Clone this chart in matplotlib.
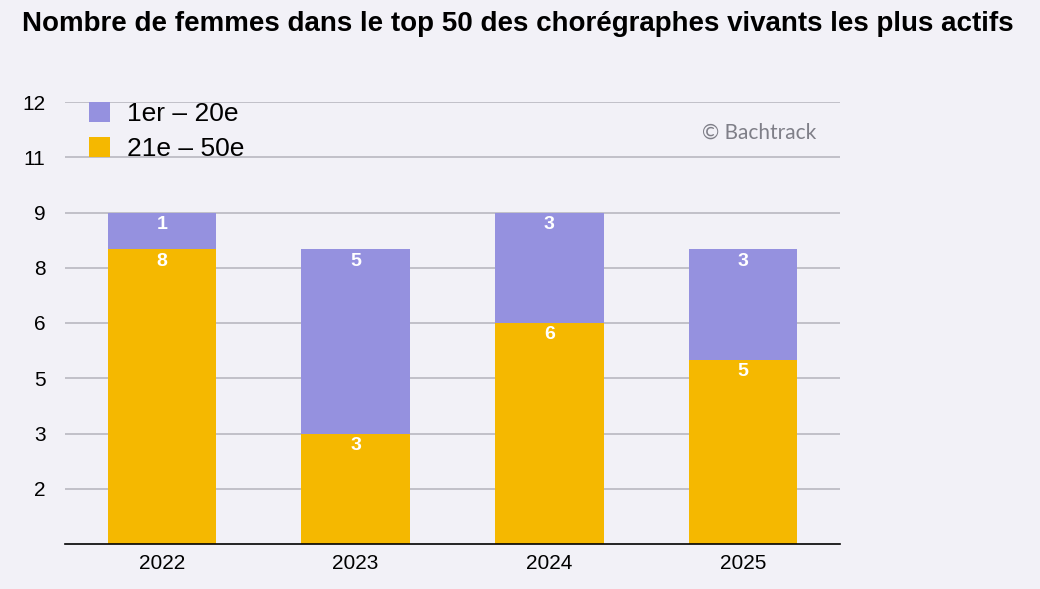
import matplotlib.pyplot as plt
import matplotlib.ticker as ticker
import numpy as np

plt.rcParams['font.family'] = ['Liberation Sans', 'DejaVu Sans']

years = ['2022', '2023', '2024', '2025']
top20 = [1, 5, 3, 3]       # 1er – 20e
rest = [8, 3, 6, 5]        # 21e – 50e

bg = '#f2f1f7'
purple = '#9591df'
orange = '#f5b800'

fig = plt.figure(figsize=(10.4, 5.89), dpi=100, facecolor=bg)
ax = fig.add_axes([65 / 1040, 45 / 589, 775 / 1040, 442 / 589])
ax.set_facecolor(bg)

x = np.arange(len(years))
w = 0.56
b1 = ax.bar(x, rest, w, color=orange, label='21e – 50e', zorder=3)
b2 = ax.bar(x, top20, w, bottom=rest, color=purple, label='1er – 20e', zorder=3)

for bars, vals in ((b1, rest), (b2, top20)):
    for bar, v in zip(bars, vals):
        ax.text(bar.get_x() + bar.get_width() / 2, bar.get_y() + bar.get_height() - 0.32,
                str(v), ha='center', va='center', color='white',
                fontsize=14, fontweight='bold', zorder=4)

ax.set_xlim(-0.5, 3.5)
ax.set_ylim(0, 12)
ax.set_yticks(np.arange(1.5, 12.01, 1.5))
ax.yaxis.set_major_formatter(ticker.FuncFormatter(lambda v, p: str(int(v + 0.5))))
ax.set_xticks(x)
ax.set_xticklabels(years)
ax.tick_params(axis='y', length=0, pad=14, labelsize=15)
ax.tick_params(axis='x', length=0, pad=7, labelsize=15)
ax.grid(axis='y', color='#b9b8c0', linewidth=1.2, zorder=0)
for s in ['top', 'right', 'left']:
    ax.spines[s].set_visible(False)
ax.spines['bottom'].set_color('black')
ax.spines['bottom'].set_linewidth(1.2)
ax.spines['bottom'].set_zorder(5)

handles, labels = ax.get_legend_handles_labels()
ax.legend(handles[::-1], labels[::-1], loc='upper left', bbox_to_anchor=(0.0, 1.054),
          frameon=False, fontsize=19, handlelength=0.8, handleheight=0.8,
          handletextpad=0.65, labelspacing=0.4)

ax.text(0.97, 0.93, '© Bachtrack', transform=ax.transAxes, ha='right', va='center',
        color='#7f7f88', fontsize=15, family=['Lato', 'DejaVu Sans'])

fig.text(22 / 1040, 1 - 24 / 589, 'Nombre de femmes dans le top 50 des chorégraphes vivants les plus actifs',
         ha='left', va='center', fontsize=20, fontweight='bold')

fig.savefig('out.png', dpi=100, facecolor=bg)
